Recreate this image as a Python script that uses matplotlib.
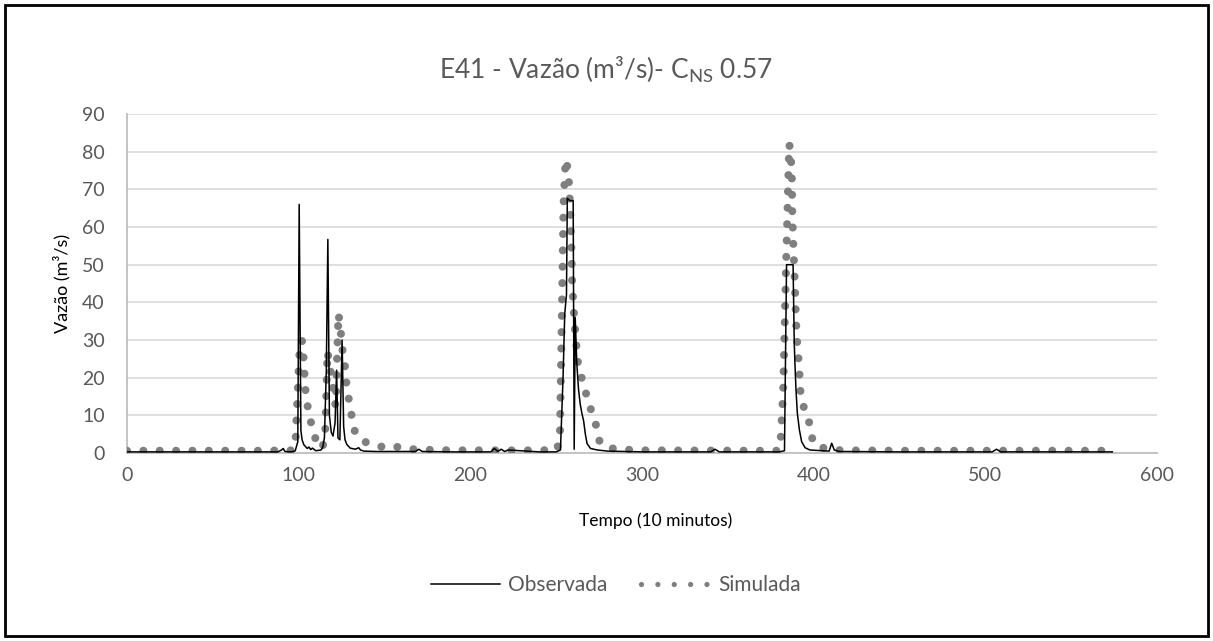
import matplotlib
matplotlib.use("Agg")
import matplotlib.pyplot as plt
from matplotlib.lines import Line2D
from matplotlib.patches import Rectangle

plt.rcParams['font.family'] = ['Lato', 'DejaVu Sans']

# ---------------- data ----------------
obs_t = [0, 20, 40, 60, 80, 88, 90, 91, 92, 95, 97, 98, 99.5, 100.3, 101.3, 102, 103, 105, 106, 107,
         108, 110, 113, 114, 115, 116.1, 117, 117.9, 119, 120, 121.2, 122.1, 122.9, 124, 125.3, 126.2,
         127, 128, 130, 133, 135, 136, 138, 145, 160, 168, 170, 172, 190, 212, 214, 216, 218, 220,
         222, 240, 250, 252.5, 254, 255, 256, 256.5, 258, 259.9, 260.5, 261.1, 262, 263, 264, 265,
         266, 267, 268, 270, 274, 280, 300, 340, 342.5, 345, 360, 380, 383, 384.2, 386, 388,
         388.7, 389.1, 389.7, 390.5, 391.7, 393, 395, 397.8, 405, 409, 410.5, 412, 415, 450, 504,
         506.5, 509, 540, 574]
obs_q = [0.3, 0.3, 0.3, 0.3, 0.3, 0.3, 0.8, 1.2, 0.4, 0.3, 0.4, 0.6, 3, 66, 6, 3.5, 2.2, 1.2, 1.6, 0.9,
         1.3, 0.6, 0.8, 1.5, 4, 22, 56.7, 10, 5.5, 4.5, 8, 22, 4, 3.5, 30, 7,
         3.5, 2.3, 1.3, 1.0, 1.4, 0.8, 0.5, 0.4, 0.4, 0.4, 1.0, 0.4, 0.3, 0.3, 1.2, 0.4, 1.0, 0.4,
         0.8, 0.3, 0.3, 0.8, 20, 37, 42, 67.6, 67, 67, 1.0, 36, 24, 17, 13, 10.5,
         8.5, 5, 2.5, 1.2, 0.8, 0.5, 0.3, 0.3, 1.0, 0.3, 0.3, 0.3, 0.6, 50, 50, 50,
         29, 23.7, 16.8, 10.5, 6.1, 3.0, 1.4, 0.8, 0.6, 0.5, 2.6, 0.8, 0.4, 0.3, 0.3,
         1.0, 0.3, 0.3, 0.3]

sim_t = [0, 40, 80, 96, 98, 100.4, 101.9, 102.6, 104, 105.5, 108, 110, 113, 114, 115.5, 116.8,
         121.5, 123.2, 124.5, 125.2, 126.5, 128, 129.5, 131, 132.5, 135, 138.5, 142, 146, 150, 155,
         160, 170, 190, 240, 250.5, 252.2, 254.3, 255.5, 257.0, 257.6, 258.4, 258.9, 259.3, 259.9,
         260.5, 261.1, 261.9, 262.8, 265.4, 267.7, 270.6, 273.5, 275.4, 280, 285, 300, 370, 379.5,
         380.9, 382.3, 383.8, 385.75, 386.6, 387.3, 387.6, 388.1, 389.1, 389.6, 390.0, 390.6, 391.4,
         392.4, 394.9, 396.5, 398.3, 399.4, 402, 407, 416, 450, 574]
sim_q = [0.6, 0.6, 0.6, 0.7, 1.5, 26, 30, 27, 16.5, 11.5, 6.5, 3.5, 1.2, 1.5, 6, 27,
         12.5, 37, 32.5, 28, 25.5, 17.5, 13.5, 9.5, 6, 4, 3, 2.3, 1.8, 1.6, 2.0,
         1.2, 0.9, 0.7, 0.7, 0.8, 4.5, 66, 78, 75, 70.5, 62, 53.6, 45, 40.6,
         36, 32, 27.8, 23.4, 19, 15.3, 11, 7, 2.8, 1.5, 1.0, 0.7, 0.6, 0.6,
         4.4, 17.4, 47.5, 82, 80, 73, 63, 56, 44, 36.6, 32.2, 28, 23.7,
         15.4, 11, 9, 7.2, 3.0, 1.8, 1.2, 0.7, 0.6, 0.6]

x_ticks = [0, 100, 200, 300, 400, 500, 600]
y_ticks = [0, 10, 20, 30, 40, 50, 60, 70, 80, 90]

title = "E41 - Vazão (m³/s)- C$_{\\mathregular{NS}}$ 0.57"
xlabel = "Tempo (10 minutos)"
ylabel = "Vazão (m³/s)"

W, H = 1213, 641
fig = plt.figure(figsize=(W / 100, H / 100), dpi=100)
ax = fig.add_axes([127 / W, 1 - 453 / H, (1157 - 127) / W, (453 - 114) / H])

grey_txt = '#595959'
sim_color = '#7f7f7f'

# dotted simulated line (round dots)
lw_sim = 5.8
ax.plot(sim_t, sim_q, color=sim_color, lw=lw_sim, linestyle=(0, (0.001, 2.03)),
        dash_capstyle='round', solid_capstyle='round', zorder=3)
ax.plot(obs_t, obs_q, color='black', lw=1.1, zorder=4)

ax.set_xlim(0, 600)
ax.set_ylim(0, 90)
ax.set_xticks(x_ticks)
ax.set_yticks(y_ticks)
ax.yaxis.grid(True, color='#d9d9d9', lw=1.2)
ax.set_axisbelow(True)
for s in ['top', 'right']:
    ax.spines[s].set_visible(False)
for s in ['left', 'bottom']:
    ax.spines[s].set_color('#bfbfbf')
    ax.spines[s].set_linewidth(1.3)
ax.tick_params(axis='both', length=0, labelsize=14, labelcolor=grey_txt)
ax.tick_params(axis='y', pad=16)
ax.tick_params(axis='x', pad=10)

fig.text(606 / W, 1 - 70 / H, title, ha='center', va='center', fontsize=19, color=grey_txt)
fig.text(62 / W, 1 - 283 / H, ylabel, ha='center', va='center', rotation=90, fontsize=13, color='black')
fig.text(656 / W, 1 - 521 / H, xlabel, ha='center', va='center', fontsize=12.5, color='black')

handles = [Line2D([], [], color='black', lw=1.1),
           Line2D([], [], color=sim_color, lw=3.8, linestyle=(0, (0.001, 3.1)), dash_capstyle='round')]
fig.legend(handles, ['Observada', 'Simulada'], loc='center', bbox_to_anchor=(616 / W, 1 - 585 / H),
           ncol=2, frameon=False, fontsize=15, labelcolor=grey_txt, handlelength=3.3,
           handletextpad=0.4, columnspacing=1.6)

fig.patches.append(Rectangle((5 / W, 5 / H), (W - 10) / W, (H - 10) / H, transform=fig.transFigure,
                             fill=False, edgecolor='black', lw=2.0))

fig.savefig('out.png', dpi=100)
